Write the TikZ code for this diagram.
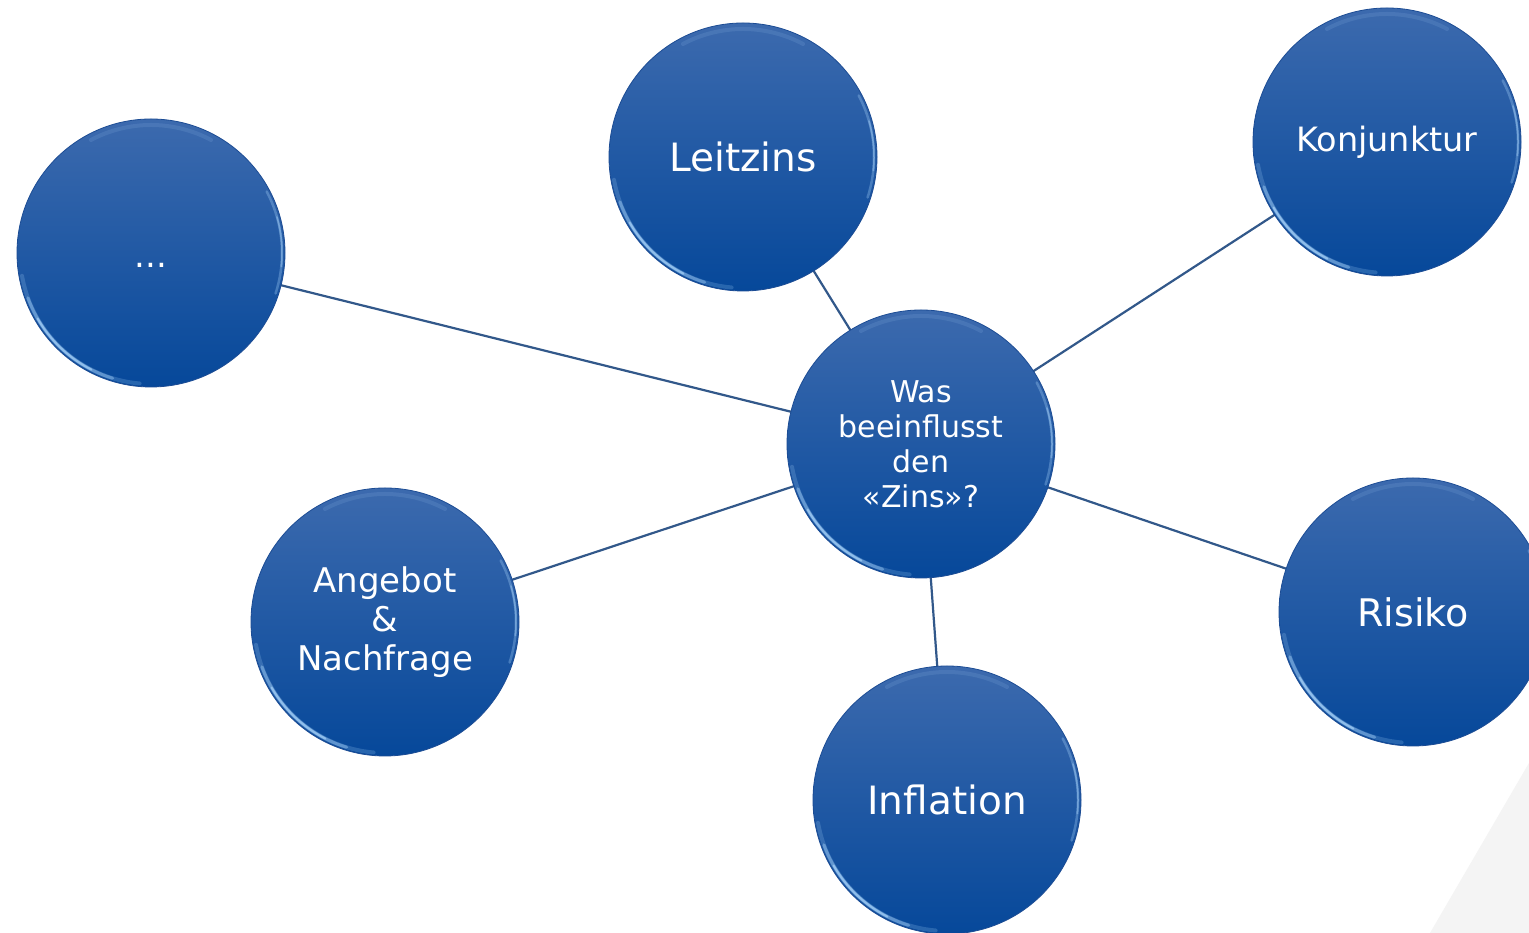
\documentclass[tikz,border=0pt]{standalone}
\usepackage{fontspec}
\setmainfont{DejaVu Sans}
\definecolor{balltop}{RGB}{60,106,174}
\definecolor{ballmid}{RGB}{16,80,160}
\definecolor{ballbot}{RGB}{6,72,154}
\definecolor{ballrim}{RGB}{28,76,148}
\definecolor{glint}{RGB}{175,218,255}
\definecolor{spoke}{RGB}{50,88,138}
\definecolor{corner}{RGB}{244,244,244}
\pgfdeclarelayer{back}
\pgfdeclarelayer{spokes}
\pgfsetlayers{back,spokes,main}

\begin{document}
\begin{tikzpicture}[x=1pt, y=1pt,
    ball/.style = {circle, minimum size=268pt, inner sep=0pt, align=center, text=white,
      draw=ballrim, line width=0.8pt, top color=balltop, middle color=ballmid, bottom color=ballbot,
      path picture={
        \draw[glint, line width=4pt, opacity=0.2, line cap=round] ([shift={(190:131pt)}]path picture bounding box.center) arc[start angle=190, end angle=265, radius=131pt];
        \draw[glint, line width=3pt, opacity=0.4, line cap=round] ([shift={(200:131pt)}]path picture bounding box.center) arc[start angle=200, end angle=253, radius=131pt];
        \draw[glint, line width=2pt, opacity=0.6, line cap=round] ([shift={(210:131pt)}]path picture bounding box.center) arc[start angle=210, end angle=243, radius=131pt];
        \draw[glint, line width=2.5pt, opacity=0.3, line cap=round] ([shift={(-18:131pt)}]path picture bounding box.center) arc[start angle=-18, end angle=28, radius=131pt];
        \draw[glint, line width=1.5pt, opacity=0.4, line cap=round] ([shift={(-6:131pt)}]path picture bounding box.center) arc[start angle=-6, end angle=16, radius=131pt];
        \draw[glint, line width=4pt, opacity=0.12, line cap=round] ([shift={(62:128pt)}]path picture bounding box.center) arc[start angle=62, end angle=118, radius=128pt];
      }},
    spoke/.style = {draw=spoke, line width=2.2pt}]

    \useasboundingbox (0,0) rectangle (1529,933);
    \clip (0,0) rectangle (1529,933);

    \begin{pgfonlayer}{back}
      \fill[white] (0,0) rectangle (1529,933);
      \fill[corner] (1430,0) -- (1529,170) -- (1529,0) -- cycle;
    \end{pgfonlayer}

    \node[ball, font=\fontsize{30}{35}\selectfont]          (zins)       at (921,489)  {Was\\beeinflusst\\den\\«Zins»?};
    \node[ball, font=\fontsize{39}{45}\selectfont]          (leitzins)   at (743,776)  {Leitzins};
    \node[ball, font=\fontsize{33.5}{40}\selectfont]        (konjunktur) at (1387,791) {Konjunktur};
    \node[ball, font=\fontsize{34}{40}\selectfont,
          text height=30pt, text depth=0pt]                 (etc)        at (151,680)  {...};
    \node[ball, font=\fontsize{34}{39}\selectfont]          (angebot)    at (385,311)  {Angebot\\\&\\Nachfrage};
    \node[ball, font=\fontsize{39}{45}\selectfont]          (inflation)  at (947,133)  {Inflation};
    \node[ball, font=\fontsize{38}{44}\selectfont]          (risiko)     at (1413,321) {Risiko};

    \begin{pgfonlayer}{spokes}
      \draw[spoke] (zins.center) -- (etc.center);
      \draw[spoke] (zins.center) -- (leitzins.center);
      \draw[spoke] (zins.center) -- (konjunktur.center);
      \draw[spoke] (zins.center) -- (angebot.center);
      \draw[spoke] (zins.center) -- (inflation.center);
      \draw[spoke] (zins.center) -- (risiko.center);
    \end{pgfonlayer}
  \end{tikzpicture}
\end{document}
